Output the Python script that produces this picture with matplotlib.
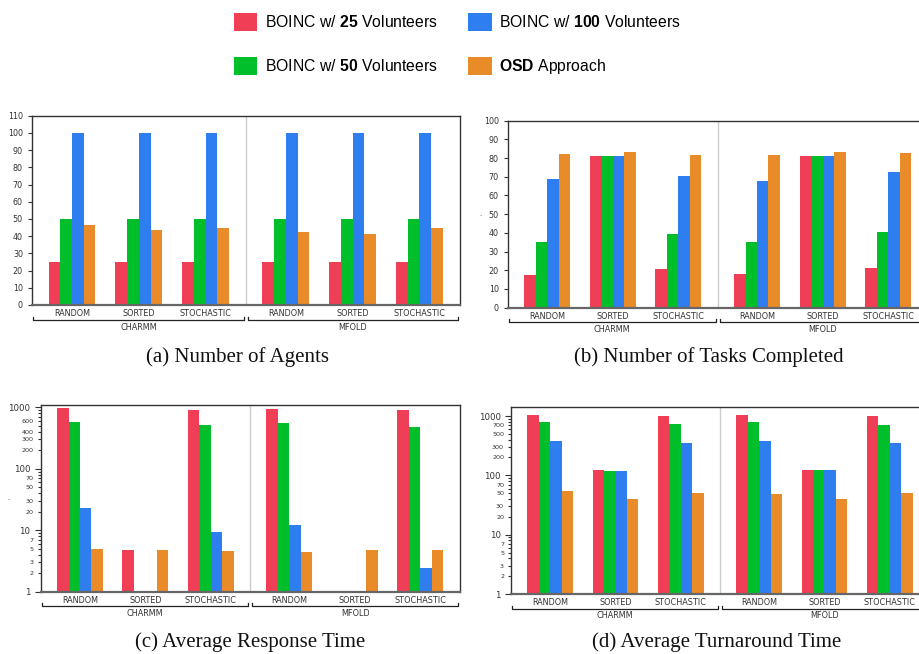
import numpy as np
import matplotlib
matplotlib.use("Agg")
import matplotlib.pyplot as plt
from matplotlib.patches import Patch
from matplotlib.ticker import FixedLocator, FuncFormatter
import matplotlib.transforms as mtransforms

plt.rcParams['mathtext.fontset'] = 'custom'
plt.rcParams['mathtext.rm'] = 'Liberation Sans'
plt.rcParams['mathtext.bf'] = 'Liberation Sans:bold'

# data
categories = ['RANDOM', 'SORTED', 'STOCHASTIC', 'RANDOM', 'SORTED', 'STOCHASTIC']
groups = ['CHARMM', 'MFOLD']
series_labels = [r'BOINC w/ $\mathbf{25}$ Volunteers', r'BOINC w/ $\mathbf{50}$ Volunteers',
                 r'BOINC w/ $\mathbf{100}$ Volunteers', r'$\mathbf{OSD}$ Approach']
colors = ['#f03e56', '#00bf2a', '#2f7eef', '#ea8b2a']

agents_25 = [25, 25, 25, 25, 25, 25]
agents_50 = [50, 50, 50, 50, 50, 50]
agents_100 = [100, 100, 100, 100, 100, 100]
agents_osd = [46.5, 43.5, 44.8, 42.5, 41.3, 44.8]

tasks_25 = [17.5, 81, 20.7, 18, 81, 21.2]
tasks_50 = [35, 81, 39.3, 35, 81, 40.3]
tasks_100 = [68.7, 81, 70.2, 68, 81, 72.3]
tasks_osd = [82, 83.5, 81.5, 81.5, 83, 82.5]

resp_25 = [960, 4.85, 905, 939, 1.02, 905]
resp_50 = [569, 1.02, 515, 556, 1.02, 477]
resp_100 = [23.4, 1.02, 9.3, 12.1, 1.02, 2.43]
resp_osd = [5.0, 4.85, 4.55, 4.37, 4.85, 4.72]

turn_25 = [1053, 124, 987, 1053, 124, 987]
turn_50 = [802, 119, 733, 802, 124, 705]
turn_100 = [384, 119, 355, 384, 124, 355]
turn_osd = [54.9, 40.2, 50.7, 48.8, 40.2, 50.7]

W, H = 920, 654
fig = plt.figure(figsize=(W / 100, H / 100), dpi=100)

xpos = np.array([0, 1, 2, 3.2, 4.2, 5.2])
bw = 0.175
TXT = '#333333'


def make_axes(l, t, r, b):
    ax = fig.add_axes([l / W, 1 - b / H, (r - l) / W, (b - t) / H])
    return ax, b - t


def draw_panel(ax, hpx, values, log=False, ylim=None, yticks=None, labelled_minor=()):
    for i, vals in enumerate(values):
        ax.bar(xpos + (i - 1.5) * bw, vals, bw, color=colors[i], linewidth=0, zorder=2)
    ax.set_xlim(-0.6, 5.8)
    ax.axvline(2.6, color='#cccccc', linewidth=1, zorder=1)
    if log:
        ax.set_yscale('log')
        ax.set_ylim(*ylim)
        ax.yaxis.set_major_locator(FixedLocator([1, 10, 100, 1000]))
        ax.yaxis.set_major_formatter(FuncFormatter(lambda v, p: '%d' % v))
        minors = [m * d for d in (1, 10, 100) for m in range(2, 10)]
        ax.yaxis.set_minor_locator(FixedLocator(minors))
        ax.yaxis.set_minor_formatter(FuncFormatter(
            lambda v, p: ('%d' % round(v)) if round(v) in labelled_minor else ''))
        ax.tick_params(axis='y', which='major', labelsize=6.2, length=4)
        ax.tick_params(axis='y', which='minor', labelsize=4.6, length=2, width=0.6, pad=3)
    else:
        ax.set_ylim(*ylim)
        ax.set_yticks(yticks)
        ax.tick_params(axis='y', labelsize=5.8, length=3)
    ax.tick_params(axis='y', which='both', direction='out', colors=TXT, width=0.8)
    ax.set_xticks(xpos)
    ax.set_xticklabels(categories)
    ax.tick_params(axis='x', length=0, labelsize=5.9, colors=TXT, pad=3)
    for s in ax.spines.values():
        s.set_color('#333333')
        s.set_linewidth(1.0)
    ax.spines['bottom'].set_color('#666666')
    ax.spines['bottom'].set_linewidth(1.6)

    # group brackets under the category labels
    tr = mtransforms.blended_transform_factory(ax.transData, ax.transAxes)
    yb = -14.5 / hpx
    up = 3 / hpx
    for (x0, x1), g in zip([(-0.58, 2.57), (2.63, 5.78)], groups):
        ax.plot([x0, x0, x1, x1], [yb + up, yb, yb, yb + up], color='#222222',
                linewidth=0.9, transform=tr, clip_on=False)
        ax.text((x0 + x1) / 2, -22 / hpx, g, transform=tr, ha='center', va='center',
                fontsize=5.9, color=TXT)


ax_a, h_a = make_axes(32, 115.7, 459.5, 305)
draw_panel(ax_a, h_a, [agents_25, agents_50, agents_100, agents_osd],
           ylim=(0, 110), yticks=range(0, 111, 10))

ax_b, h_b = make_axes(507.7, 120.7, 927.6, 307.7)
draw_panel(ax_b, h_b, [tasks_25, tasks_50, tasks_100, tasks_osd],
           ylim=(0, 100), yticks=range(0, 101, 10))
ax_b.text(-0.064, 0.5, '.', transform=ax_b.transAxes, fontsize=5, color=TXT,
          ha='center', va='center')

ax_c, h_c = make_axes(40.7, 405, 459.5, 591.7)
draw_panel(ax_c, h_c, [resp_25, resp_50, resp_100, resp_osd], log=True,
           ylim=(1, 1090), labelled_minor=(2, 3, 5, 7, 20, 30, 50, 70, 200, 300, 400, 600))
ax_c.text(-0.076, 0.5, '.', transform=ax_c.transAxes, fontsize=5, color=TXT,
          ha='center', va='center')

ax_d, h_d = make_axes(511, 407, 929, 594)
draw_panel(ax_d, h_d, [turn_25, turn_50, turn_100, turn_osd], log=True,
           ylim=(1, 1420), labelled_minor=(2, 3, 5, 7, 20, 30, 50, 70, 200, 300, 500, 700))

# captions
cap = dict(ha='center', va='center', fontsize=15, family='Liberation Serif', color='#111111')
fig.text(237.5 / W, 1 - 357 / H, '(a) Number of Agents', **cap)
fig.text(709 / W, 1 - 357 / H, '(b) Number of Tasks Completed', **cap)
fig.text(250.5 / W, 1 - 642 / H, '(c) Average Response Time', **cap)
fig.text(716.5 / W, 1 - 642 / H, '(d) Average Turnaround Time', **cap)

# legend
handles = [Patch(facecolor=c, edgecolor='none') for c in colors]
fig.legend(handles, series_labels, ncol=2, loc='upper left',
           bbox_to_anchor=(226 / W, 1 - 5 / H), frameon=False, borderpad=0,
           prop={'family': 'Liberation Sans', 'size': 11.3},
           handlelength=1.5, handleheight=1.45, handletextpad=0.5,
           labelspacing=1.6, columnspacing=1.9)

fig.savefig('out.png', dpi=100)
